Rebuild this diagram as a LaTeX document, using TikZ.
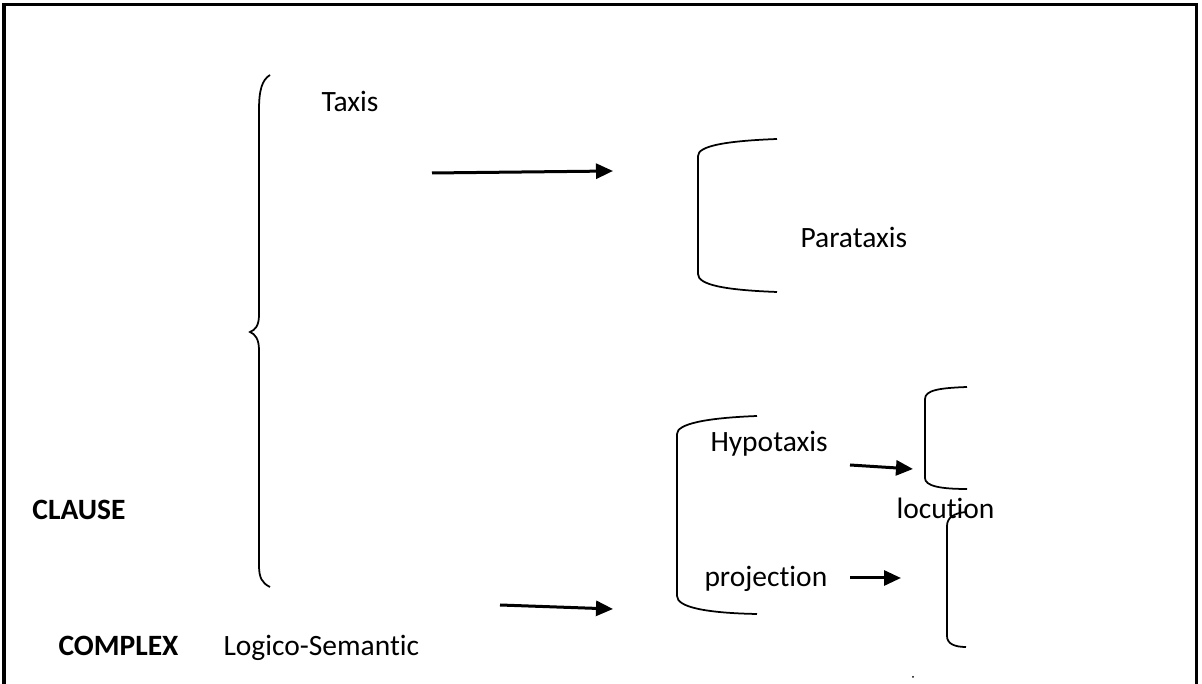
\documentclass[tikz,border=0pt]{standalone}
\usepackage{fontspec}
\setmainfont[Ligatures=NoCommon]{Carlito}
\usetikzlibrary{arrows.meta}
\tikzset{
  lbl/.style={anchor=base west,inner sep=0pt,font=\fontsize{11.8}{14}\selectfont},
  bold/.style={lbl,font=\fontsize{11.8}{14}\selectfont\bfseries},
  arr/.style={-{Triangle[length=6.8pt,width=6pt]},line width=1.2pt},
  brk/.style={line width=0.7pt}
}
\begin{document}
\begin{tikzpicture}[x=0.4pt,y=-0.4pt]
    \useasboundingbox (0,0) rectangle (1202,684);
    \draw[line width=1.2pt] (4,684) -- (4,5) -- (1196,5) -- (1196,684);
    \draw[brk] (270,75) .. controls (262,80) and (259,90) .. (259,110) -- (259,315)
        .. controls (259,326) and (255,330) .. (250,332) .. controls (255,334) and (259,339) .. (259,350)
        -- (259,565) .. controls (259,578) and (262,583) .. (270,587);
    \draw[brk] (777,139) .. controls (725,141) and (698,146) .. (698,156) -- (698,274) .. controls (698,285) and (725,290) .. (777,292);
    \draw[brk] (757,416) .. controls (705,418) and (677,424) .. (677,434) -- (677,596) .. controls (677,607) and (705,613) .. (757,614);
    \draw[brk] (967,387) .. controls (940,388) and (925,390) .. (925,399) -- (925,478) .. controls (925,486) and (940,489) .. (967,489);
    \draw[brk] (966,512) .. controls (955,513) and (947,517) .. (947,526) -- (947,636) .. controls (947,644) and (955,647) .. (966,647);
    \node[lbl] (taxis) at (321,112) {Taxis};
    \node[lbl] (parataxis) at (800,248) {Parataxis};
    \node[lbl] (hypotaxis) at (710,452) {Hypotaxis};
    \node[lbl] (projection) at (704,587) {projection};
    \node[lbl] (locution) at (896,519) {locution};
    \node[bold] (clause) at (32,520) {CLAUSE};
    \node[bold] (complex) at (58,656) {COMPLEX};
    \node[lbl] (logico) at (223,656) {Logico-Semantic};
    \coordinate (a1s) at (432,173); \coordinate (a1e) at (613,171);
    \coordinate (a2s) at (500,605); \coordinate (a2e) at (613,609);
    \coordinate (a3s) at (850,465); \coordinate (a3e) at (913,469);
    \coordinate (a4s) at (850,578); \coordinate (a4e) at (901,578);
    \foreach \p in {1,2,3,4} \draw[arr] (a\p s) -- (a\p e);
    \fill (913,677) circle (1);
\end{tikzpicture}
\end{document}
